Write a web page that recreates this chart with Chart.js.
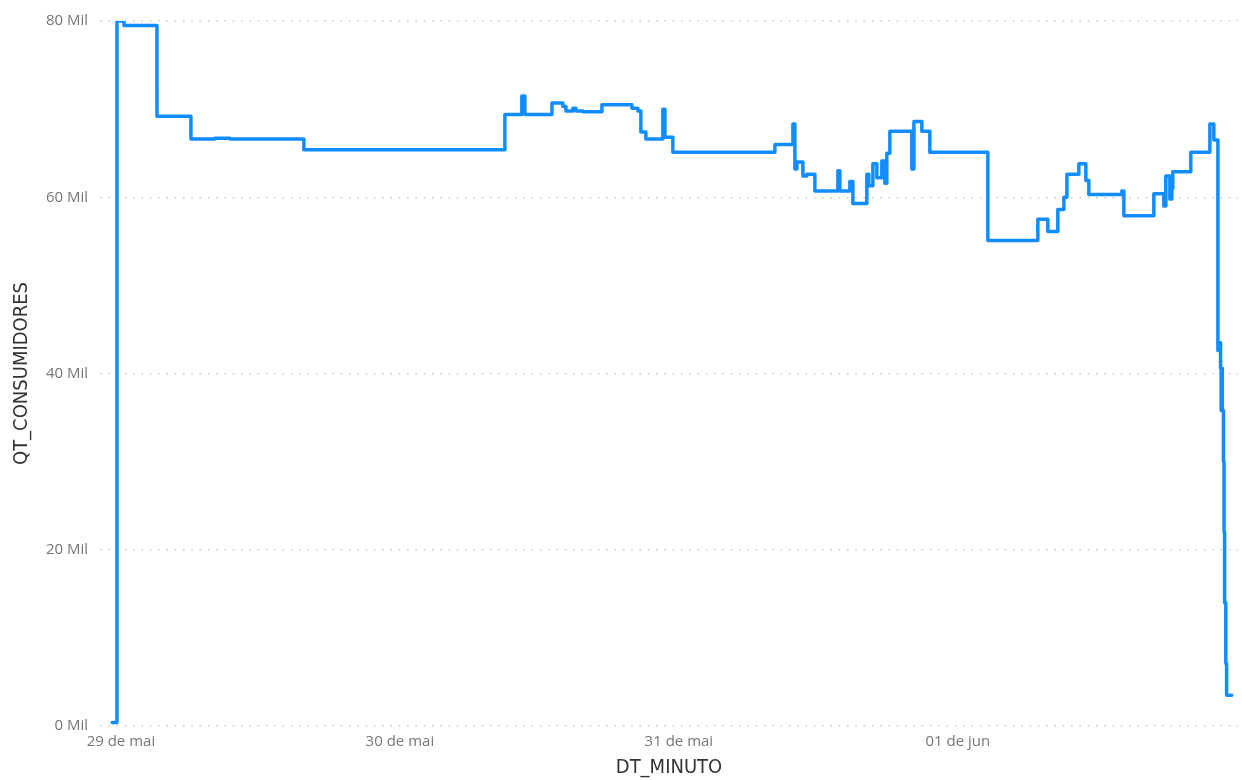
<!DOCTYPE html>
<html>
<head>
<meta charset="utf-8">
<script src="https://cdn.jsdelivr.net/npm/chart.js@4/dist/chart.umd.min.js"></script>
<style>
  html, body { margin: 0; padding: 0; background: #fff; }
  #wrap { width: 1242px; height: 780px; }
</style>
</head>
<body>
<div id="wrap"><canvas id="chart"></canvas></div>
<script>
// hours since 29 de mai 00:00
var horas = [
    -0.75, -0.34, 0.26, 3.10, 6.02, 8.10, 9.40, 15.74,
    33.03, 34.49, 34.75, 37.08, 38.02, 38.28, 38.88, 39.14, 39.74, 41.38,
    43.96, 44.47, 44.73, 45.16, 46.62, 46.80, 47.48,
    56.26, 57.81, 57.98, 58.15, 58.67, 59.01, 59.70, 61.68, 61.85, 62.71,
    62.97, 64.17, 64.34, 64.69, 65.03, 65.46, 65.72, 65.89, 66.15, 68.04,
    68.22, 68.90, 69.59,
    74.58, 78.88, 79.74, 80.60, 81.12, 81.38, 82.41, 83.01, 83.27, 86.11,
    86.28, 88.86, 89.72, 89.89, 90.24, 90.41, 90.49, 92.04, 93.68, 94.02,
    94.37, 94.45, 94.60, 94.65, 94.70, 94.75, 94.85, 94.90, 94.95, 95.05,
    95.12, 95.57
];
// QT_CONSUMIDORES in thousands ("Mil")
var consumidores = [
    0.4, 80.0, 79.5, 69.2, 66.6, 66.7, 66.6, 65.4,
    69.4, 71.5, 69.4, 70.7, 70.3, 69.8, 70.1, 69.8, 69.7, 70.5,
    70.1, 69.8, 67.4, 66.6, 70.0, 66.8, 65.1,
    66.0, 68.3, 63.2, 64.0, 62.4, 62.6, 60.7, 63.0, 60.7, 61.8,
    59.3, 62.6, 61.3, 63.8, 62.2, 64.1, 61.6, 65.0, 67.5, 63.2,
    68.6, 67.5, 65.1,
    55.1, 57.5, 56.1, 58.6, 60.0, 62.6, 63.8, 61.9, 60.3, 60.7,
    57.9, 60.4, 59.0, 62.4, 59.8, 61.0, 62.9, 65.1, 68.3, 66.5,
    42.6, 43.5, 40.6, 35.8, 40.6, 35.8, 30.0, 22.0, 14.0, 7.1,
    3.5, 3.5
];
var diasTicks = [0, 24, 48, 72];
var diasLabels = ['29 de mai', '30 de mai', '31 de mai', '01 de jun'];
var yTicks = [0, 20, 40, 60, 80];

var pontos = [];
for (var i = 0; i < horas.length; ++i) {
    pontos.push({ x: horas[i], y: consumidores[i] });
}

var tickFont = { family: "'Open Sans', 'Noto Sans', sans-serif", size: 15 };
var titleFont = { family: "'Liberation Sans Narrow', 'DejaVu Sans Condensed', sans-serif", size: 20 };

var ctx = document.getElementById('chart').getContext('2d');
var chart = new Chart(ctx, {
    type: 'line',
    data: {
        datasets: [{
            label: 'QT_CONSUMIDORES',
            data: pontos,
            borderColor: '#118DFF',
            borderWidth: 3.5,
            borderJoinStyle: 'round',
            borderCapStyle: 'round',
            pointRadius: 0,
            stepped: 'before',
            fill: false
        }]
    },
    options: {
        responsive: true,
        maintainAspectRatio: false,
        animation: false,
        layout: { padding: { left: 8, right: 4, top: 20, bottom: 0 } },
        plugins: {
            legend: { display: false },
            tooltip: { enabled: false }
        },
        scales: {
            x: {
                type: 'linear',
                min: -1.8,
                max: 96.1,
                afterBuildTicks: function (scale) {
                    scale.ticks = diasTicks.map(function (v) { return { value: v }; });
                },
                afterFit: function (scale) { scale.height = 54; },
                grid: { display: false, drawTicks: false },
                border: { display: false },
                ticks: {
                    autoSkip: false,
                    maxRotation: 0,
                    padding: 7,
                    color: '#777',
                    font: tickFont,
                    callback: function (v) {
                        var k = diasTicks.indexOf(v);
                        return k >= 0 ? diasLabels[k] : '';
                    }
                },
                title: {
                    display: true,
                    text: 'DT_MINUTO',
                    color: '#333',
                    font: titleFont,
                    padding: { top: 0, bottom: 0 }
                }
            },
            y: {
                min: 0,
                max: 80,
                afterBuildTicks: function (scale) {
                    scale.ticks = yTicks.map(function (v) { return { value: v }; });
                },
                afterFit: function (scale) { scale.width = 92; },
                grid: { color: '#c8c8c8', lineWidth: 1.5, drawTicks: false },
                border: { display: false, dash: [1.5, 6.8] },
                ticks: {
                    padding: 12,
                    color: '#777',
                    font: tickFont,
                    callback: function (v) { return v + ' Mil'; }
                },
                title: {
                    display: true,
                    text: 'QT_CONSUMIDORES',
                    color: '#333',
                    font: titleFont,
                    padding: { top: 2, bottom: 0 }
                }
            }
        }
    }
});
</script>
</body>
</html>
